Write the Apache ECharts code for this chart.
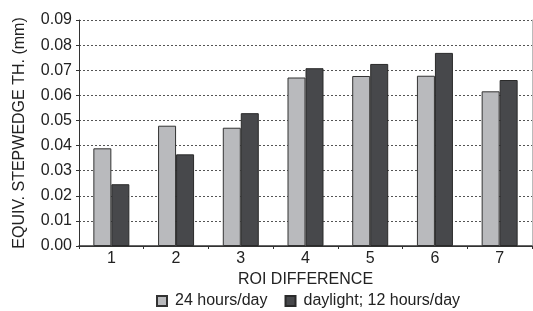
<!DOCTYPE html>
<html>
<head>
<meta charset="utf-8">
<script src="https://cdn.jsdelivr.net/npm/echarts@6/dist/echarts.min.js"></script>
<style>
  html, body { margin: 0; padding: 0; background: #fff; }
  #chart { width: 533px; height: 311px; }
</style>
</head>
<body>
<div id="chart"></div>
<script>
// ROI 分组
const categories = ["1", "2", "3", "4", "5", "6", "7"];
// 24 hours/day
const fullDay = [0.0389, 0.0479, 0.0471, 0.0671, 0.0677, 0.0678, 0.0616];
// daylight; 12 hours/day
const daylight = [0.0246, 0.0365, 0.0529, 0.0708, 0.0725, 0.0769, 0.0661];

const font = "Liberation Sans";
const chart = echarts.init(document.getElementById("chart"));

chart.setOption({
  animation: false,
  textStyle: { fontFamily: font },
  grid: { left: 79, right: 1, top: 20, bottom: 65 },
  legend: {
    top: 293,
    left: 156,
    padding: 0,
    icon: "rect",
    itemWidth: 10,
    itemHeight: 10,
    itemGap: 17,
    textStyle: { fontSize: 16, color: "#222", fontFamily: font, padding: [0, 0, 0, 3] },
    data: ["24 hours/day", "daylight; 12 hours/day"],
  },
  xAxis: [
    {
      type: "category",
      data: categories,
      axisLine: { lineStyle: { color: "#333", width: 1 } },
      axisTick: { show: true, length: 3, lineStyle: { color: "#333" } },
      axisLabel: { fontSize: 16, color: "#222", margin: 5 },
      name: "ROI DIFFERENCE",
      nameLocation: "middle",
      nameGap: 24,
      nameTextStyle: { fontSize: 16, color: "#222" },
    },
    {
      // 顶部实线边框
      type: "category",
      position: "top",
      data: categories,
      axisLine: { lineStyle: { color: "#333", width: 1.5 } },
      axisTick: { show: false },
      axisLabel: { show: false },
    },
  ],
  yAxis: [
    {
      type: "value",
      min: 0,
      max: 0.09,
      interval: 0.01,
      axisLine: { show: true, lineStyle: { color: "#333" } },
      axisTick: { show: true, length: 3, lineStyle: { color: "#333" } },
      axisLabel: {
        fontSize: 16,
        color: "#222",
        margin: 7,
        formatter: (v) => v.toFixed(2),
      },
      splitLine: { lineStyle: { type: [2, 2], color: "#555", width: 1 } },
      name: "EQUIV. STEPWEDGE TH. (mm)",
      nameLocation: "middle",
      nameGap: 51,
      nameTextStyle: { fontSize: 16, color: "#222" },
    },
    {
      // 右侧浅色边框
      type: "value",
      position: "right",
      min: 0,
      max: 0.09,
      interval: 0.01,
      axisLine: { show: true, lineStyle: { color: "#bbb", width: 1 } },
      axisTick: { show: false },
      axisLabel: { show: false },
      splitLine: { show: false },
    },
  ],
  series: [
    {
      name: "24 hours/day",
      type: "bar",
      data: fullDay,
      barWidth: 18,
      barGap: "0%",
      itemStyle: { color: "#b9babd", borderColor: "#333", borderWidth: 1 },
    },
    {
      name: "daylight; 12 hours/day",
      type: "bar",
      data: daylight,
      barWidth: 18,
      itemStyle: { color: "#47484b", borderColor: "#2a2a2a", borderWidth: 1 },
    },
  ],
});
</script>
</body>
</html>
